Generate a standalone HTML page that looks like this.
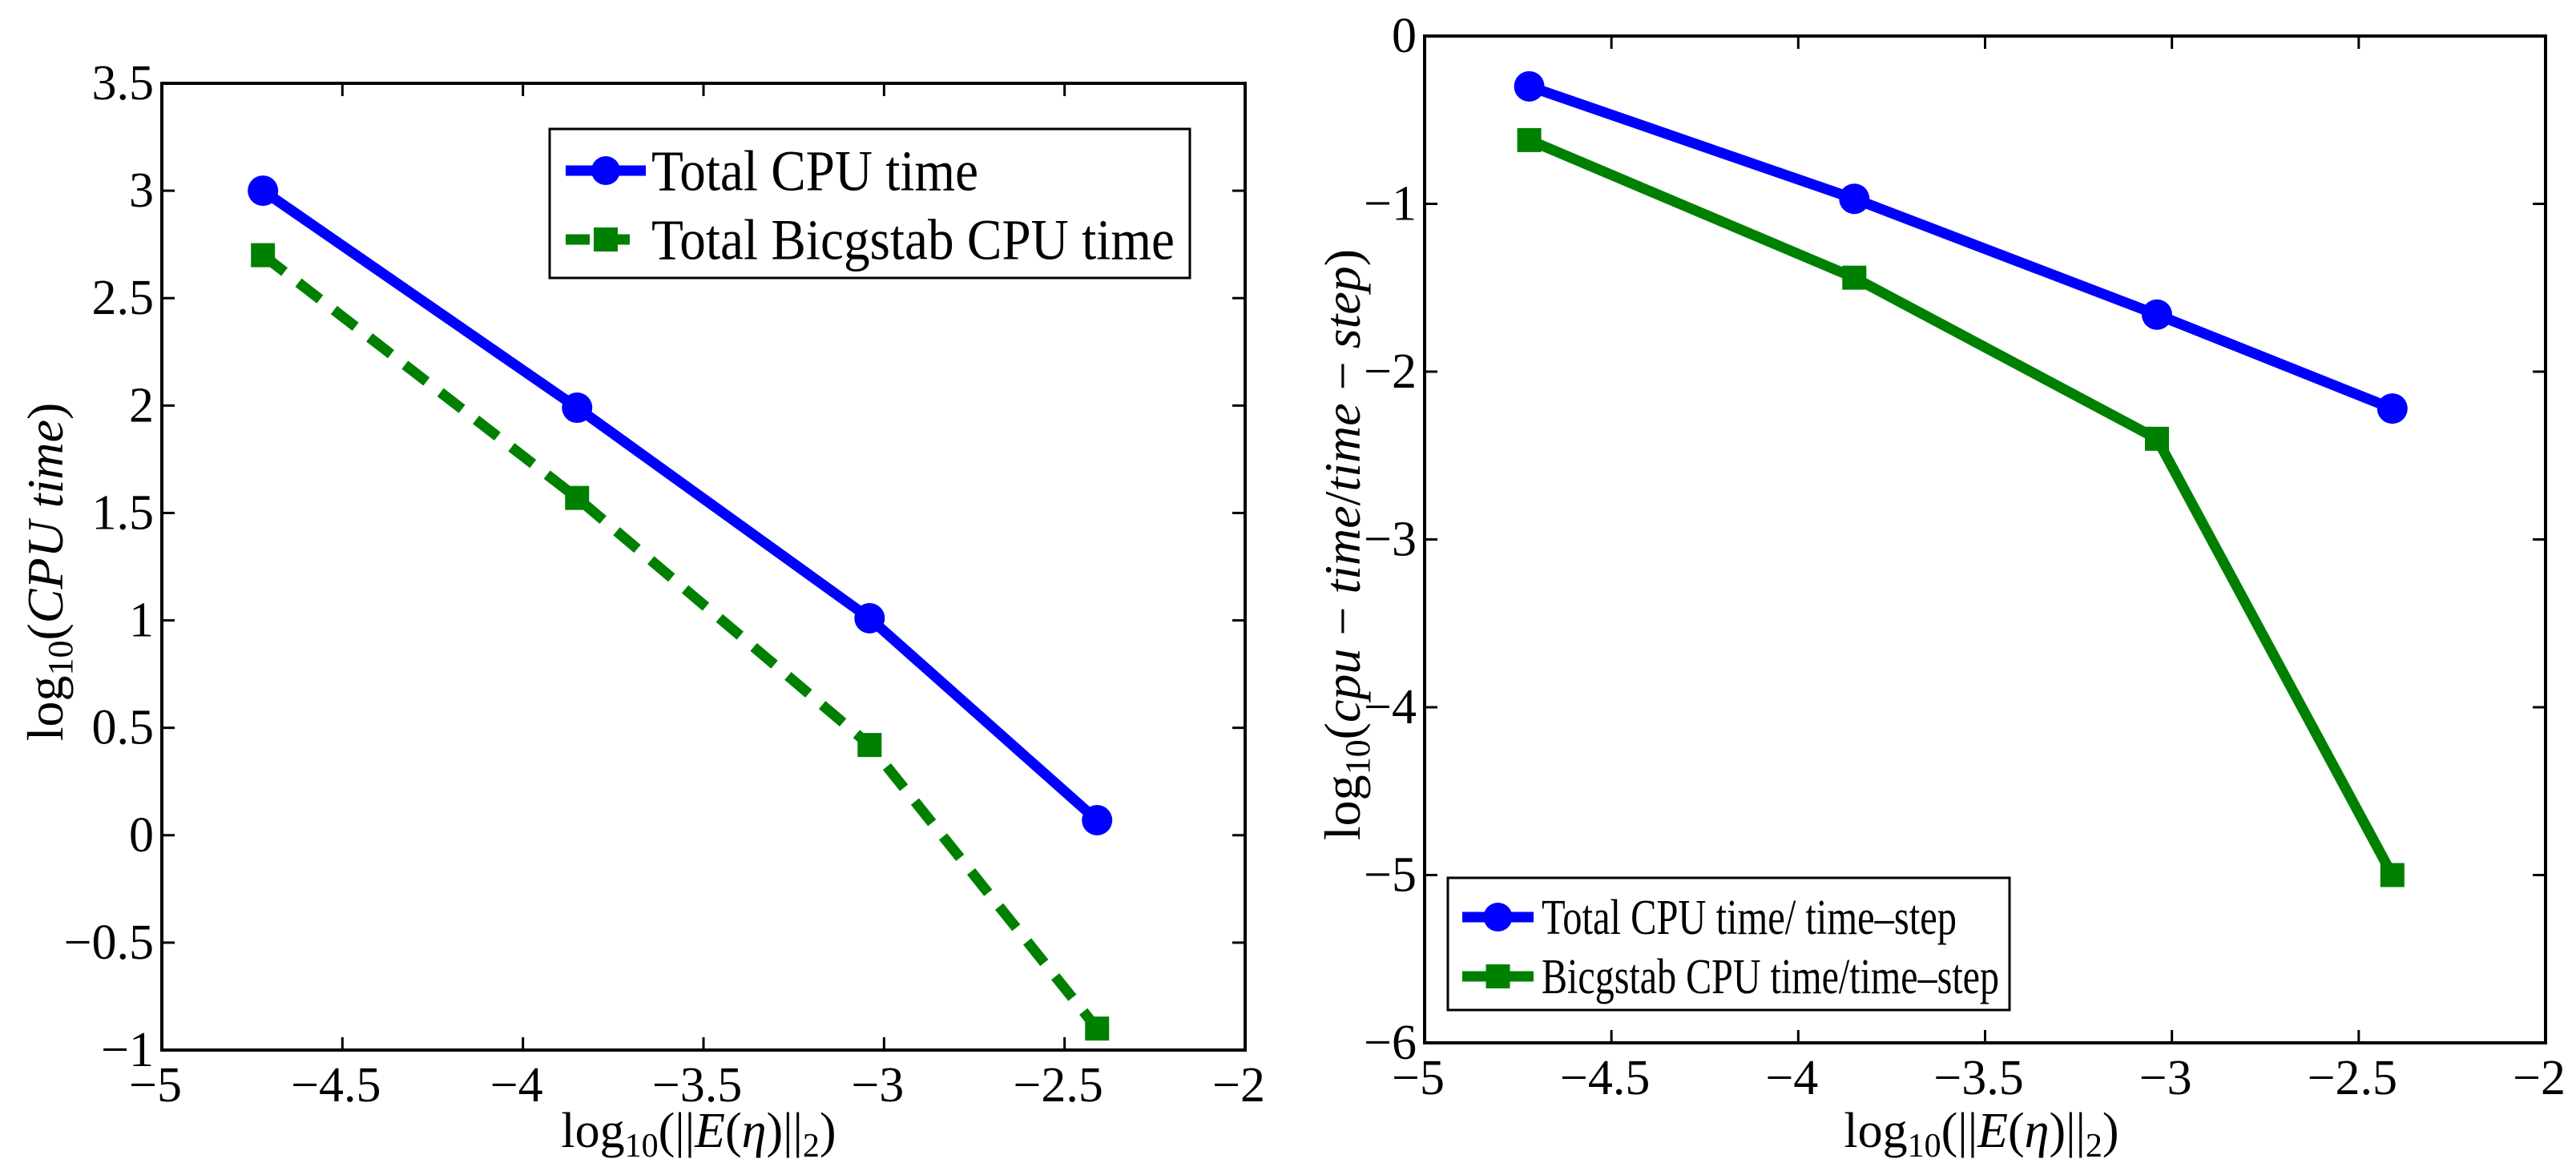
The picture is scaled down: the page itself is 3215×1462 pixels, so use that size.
<!DOCTYPE html>
<html><head><meta charset="utf-8"><style>
html,body{margin:0;padding:0;background:#fff;}
svg{display:block;font-family:"Liberation Serif",serif;}
svg text{font-family:"Liberation Serif","DejaVu Serif",serif;}
</style></head><body>
<svg id="fig" width="3215" height="1462" viewBox="0 0 3215 1462" xmlns="http://www.w3.org/2000/svg">
<rect width="3215" height="1462" fill="#fff"/>
</svg>
<script>
// ---- data ----
const xValues = [-4.72, -3.85, -3.04, -2.41];
const leftTotal = [3.0, 1.99, 1.01, 0.07];
const leftBicg = [2.70, 1.57, 0.42, -0.90];
const rightTotal = [-0.30, -0.97, -1.66, -2.22];
const rightBicg = [-0.62, -1.44, -2.40, -5.0];
const xTicks = [-5, -4.5, -4, -3.5, -3, -2.5, -2];
const xTickLabels = ["\u22125","\u22124.5","\u22124","\u22123.5","\u22123","\u22122.5","\u22122"];
const leftYTicks = [-1,-0.5,0,0.5,1,1.5,2,2.5,3,3.5];
const leftYTickLabels = ["\u22121","\u22120.5","0","0.5","1","1.5","2","2.5","3","3.5"];
const rightYTicks = [-6,-5,-4,-3,-2,-1,0];
const rightYTickLabels = ["\u22126","\u22125","\u22124","\u22123","\u22122","\u22121","0"];

const NS="http://www.w3.org/2000/svg";
const svg=document.getElementById('fig');
const FF='"Liberation Serif", serif';
function mk(tag,attrs,parent,text){const e=document.createElementNS(NS,tag);for(const k in attrs)e.setAttribute(k,attrs[k]);if(tag==='text')e.setAttribute('font-family',FF);if(text!==undefined)e.textContent=text;(parent||svg).appendChild(e);return e;}

function makeAxes(name,L,T,R,B,xmin,xmax,ymin,ymax,yt,ytl){
  const g=mk('g',{});
  
  
  const sx=v=>L+(v-xmin)/(xmax-xmin)*(R-L);
  const sy=v=>B-(v-ymin)/(ymax-ymin)*(B-T);
  const box=mk('rect',{x:L,y:T,width:R-L,height:B-T,fill:'none',stroke:'#000','stroke-width':4},g);
  
  
  xTicks.forEach((v,i)=>{
    const x=sx(v);
    mk('line',{x1:x,y1:B,x2:x,y2:B-16,stroke:'#000','stroke-width':3},g);
    mk('line',{x1:x,y1:T,x2:x,y2:T+16,stroke:'#000','stroke-width':3},g);
    const t=mk('text',{x:x-8,y:B+64,'font-size':62,'text-anchor':'middle'},g,xTickLabels[i]);
    
    
  });
  yt.forEach((v,i)=>{
    const y=sy(v);
    mk('line',{x1:L,y1:y,x2:L+16,y2:y,stroke:'#000','stroke-width':3},g);
    mk('line',{x1:R,y1:y,x2:R-16,y2:y,stroke:'#000','stroke-width':3},g);
    const t=mk('text',{x:L-10,y:y+20,'font-size':62,'text-anchor':'end'},g,ytl[i]);
    
    
  });
  return {g,sx,sy};
}
function series(ax,ys,color,marker,dash,name){
  const g=mk('g',{},ax.g);
  
  
  const pts=xValues.map((x,i)=>ax.sx(x)+','+ax.sy(ys[i])).join(' ');
  const a={points:pts,fill:'none',stroke:color,'stroke-width':13,'stroke-linejoin':'round'};
  if(dash)a['stroke-dasharray']=dash;
  mk('polyline',a,g);
  xValues.forEach((x,i)=>{
    const cx=ax.sx(x),cy=ax.sy(ys[i]);let m;
    if(marker==='o')m=mk('circle',{cx,cy,r:19,fill:color},g);
    else m=mk('rect',{x:cx-15,y:cy-15,width:30,height:30,fill:color},g);
    
    
  });
}
function legendEntry(parent,x1,x2,y,color,marker,dash,tx,label,fs,tlen){
  const g=mk('g',{},parent);
  
  
  const a={x1,y1:y,x2,y2:y,stroke:color,'stroke-width':13};
  if(dash)a['stroke-dasharray']=dash;
  mk('line',a,g);
  const cx=(x1+x2)/2;
  if(marker==='o')mk('circle',{cx,cy:y,r:18,fill:color},g);
  else mk('rect',{x:cx-15,y:y-15,width:30,height:30,fill:color},g);
  mk('text',{x:tx,y:y+fs*0.34,'font-size':fs,textLength:tlen,lengthAdjust:'spacingAndGlyphs'},g,label);
}

// Left plot
const A=makeAxes('left-chart',202,104,1554,1311,-5,-2,-1,3.5,leftYTicks,leftYTickLabels);
series(A,leftTotal,'#0000ff','o',null,'series-total-cpu');
series(A,leftBicg,'#008000','s','34 22','series-bicgstab-cpu');
const lg=mk('g',{});


mk('rect',{x:686,y:161,width:799,height:186,fill:'#fff',stroke:'#000','stroke-width':3},lg);
legendEntry(lg,706,806,213,'#0000ff','o',null,813,'Total CPU time',72,408);
legendEntry(lg,706,806,299,'#008000','s','30 20',813,'Total Bicgstab CPU time',72,653);

let t=mk('text',{x:872,y:1432,'font-size':62,'text-anchor':'middle'},null);


t.innerHTML='log<tspan font-size="42" dy="12">10</tspan><tspan dy="-12">(||</tspan><tspan font-style="italic">E</tspan>(<tspan font-style="italic">η</tspan>)||<tspan font-size="42" dy="12">2</tspan><tspan dy="-12">)</tspan>';
t=mk('text',{x:0,y:0,'font-size':64,'text-anchor':'middle',transform:'translate(78,714) rotate(-90)'},null);


t.innerHTML='log<tspan font-size="44" dy="12">10</tspan><tspan dy="-12">(</tspan><tspan font-style="italic">CPU time</tspan>)';

// Right plot
const B=makeAxes('right-chart',1778,45,3177,1302,-5,-2,-6,0,rightYTicks,rightYTickLabels);
series(B,rightTotal,'#0000ff','o',null,'series-total-cpu-per-step');
series(B,rightBicg,'#008000','s',null,'series-bicgstab-cpu-per-step');
const rg=mk('g',{});


mk('rect',{x:1807,y:1096,width:701,height:165,fill:'#fff',stroke:'#000','stroke-width':3},rg);
legendEntry(rg,1825,1914,1145,'#0000ff','o',null,1924,'Total CPU time/ time\u2013step',62,518);
legendEntry(rg,1825,1914,1219,'#008000','s',null,1924,'Bicgstab CPU time/time\u2013step',62,571);

t=mk('text',{x:2473,y:1432,'font-size':62,'text-anchor':'middle'},null);


t.innerHTML='log<tspan font-size="42" dy="12">10</tspan><tspan dy="-12">(||</tspan><tspan font-style="italic">E</tspan>(<tspan font-style="italic">η</tspan>)||<tspan font-size="42" dy="12">2</tspan><tspan dy="-12">)</tspan>';
t=mk('text',{x:0,y:0,'font-size':64,'text-anchor':'middle',transform:'translate(1697,680) rotate(-90)'},null);


t.innerHTML='log<tspan font-size="44" dy="12">10</tspan><tspan dy="-12">(</tspan><tspan font-style="italic">cpu</tspan> − <tspan font-style="italic">time</tspan>/<tspan font-style="italic">time</tspan> − <tspan font-style="italic">step</tspan>)';
</script>
</body></html>
